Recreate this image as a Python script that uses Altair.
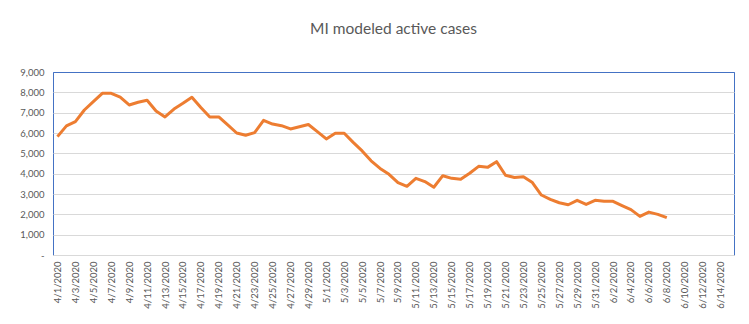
import altair as alt
import pandas as pd

# Category axis: 4/1/2020 .. 6/15/2020
dates = pd.date_range("2020-04-01", "2020-06-15", freq="D")
categories = [f"{d.month}/{d.day}/2020" for d in dates]

# Modeled active cases, 4/1/2020 .. 6/8/2020
active_cases = [
    5820, 6350, 6560, 7130, 7540, 7950, 7950, 7760, 7380, 7510,
    7610, 7080, 6790, 7180, 7460, 7760, 7250, 6790, 6790, 6400,
    6000, 5890, 6020, 6620, 6440, 6360, 6200, 6310, 6420, 6070,
    5710, 5990, 5990, 5540, 5120, 4630, 4260, 3970, 3560, 3380,
    3770, 3610, 3330, 3900, 3770, 3720, 4020, 4360, 4310, 4590,
    3920, 3810, 3850, 3560, 2950, 2740, 2570, 2470, 2690, 2490,
    2690, 2640, 2640, 2430, 2230, 1900, 2110, 2000, 1840,
]

y_ticks = [0, 1000, 2000, 3000, 4000, 5000, 6000, 7000, 8000, 9000]

df = pd.DataFrame({
    "date": categories[: len(active_cases)],
    "cases": active_cases,
})

FONT = "Lato"
TXT = "#595959"

chart = (
    alt.Chart(df)
    .mark_line(color="#ED7D31", strokeWidth=3, strokeJoin="round")
    .encode(
        x=alt.X(
            "date:N",
            sort=categories,
            scale=alt.Scale(domain=categories),
            axis=alt.Axis(
                title=None,
                values=categories[::2],
                labelAngle=270,
                labelFontSize=9.5,
                labelColor=TXT,
                labelFont=FONT,
                labelPadding=6,
                labelOverlap=False,
                ticks=False,
                grid=False,
                domainColor="#d9d9d9",
            ),
        ),
        y=alt.Y(
            "cases:Q",
            scale=alt.Scale(domain=[0, 9000], nice=False),
            axis=alt.Axis(
                title=None,
                values=y_ticks,
                labelExpr="datum.value == 0 ? '-' : format(datum.value, ',')",
                labelFontSize=9.5,
                labelColor=TXT,
                labelFont=FONT,
                labelPadding=9,
                ticks=False,
                domain=False,
                gridColor={
                    "condition": {"test": "datum.value == 9000", "value": "#4472C4"},
                    "value": "#d9d9d9",
                },
                gridWidth=1,
            ),
        ),
    )
    .properties(
        width=681,
        height=183,
        title=alt.TitleParams(
            "MI modeled active cases",
            font=FONT,
            fontSize=15.5,
            fontWeight="normal",
            color=TXT,
            anchor="middle",
            baseline="bottom",
            offset=15,
        ),
        autosize=alt.AutoSizeParams(type="none"),
        padding={"left": 53, "top": 72, "right": 15, "bottom": 69},
        background="white",
    )
    .configure_view(stroke="#4472C4", strokeWidth=1)
)

chart.save("out.html", embed_options={"renderer": "svg", "actions": False})
